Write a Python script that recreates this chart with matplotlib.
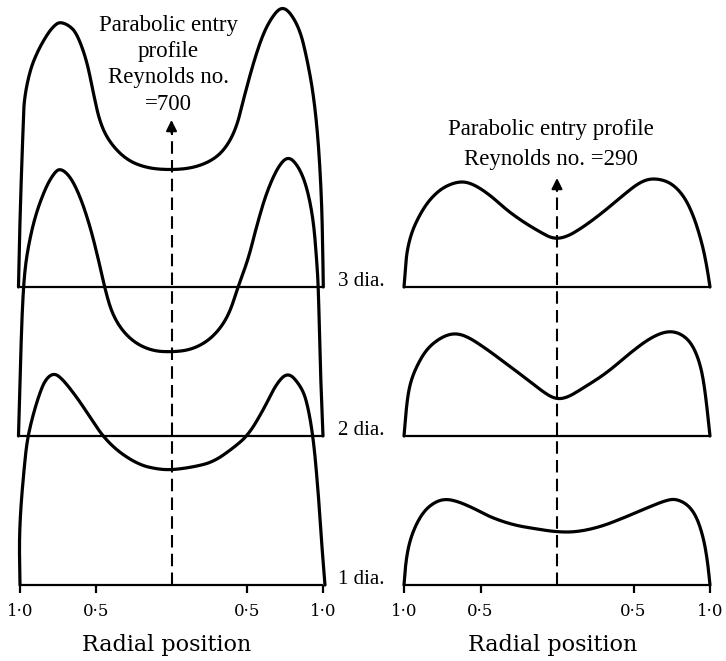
import numpy as np
import matplotlib.pyplot as plt

# radial position r (-1 .. 1) and velocity (chart units)
STATIONS = ["1 dia.", "2 dia.", "3 dia."]
STATION_GAP = 1.49

re700_r = [
    [-1.0, -1.005, -0.996, -0.978, -0.956, -0.923, -0.879, -0.835, -0.78,
     -0.725, -0.626, -0.538, -0.45, -0.34, -0.208, -0.098, 0.0, 0.144, 0.276,
     0.408, 0.507, 0.606, 0.694, 0.771, 0.848, 0.892, 0.936, 0.969, 0.991,
     1.013],
    [-1.01, -0.996, -0.985, -0.97, -0.945, -0.90, -0.835, -0.78, -0.736,
     -0.67, -0.604, -0.538, -0.483, -0.428, -0.384, -0.318, -0.23, -0.12, 0.0,
     0.122, 0.232, 0.32, 0.386, 0.441, 0.507, 0.562, 0.628, 0.705, 0.771,
     0.837, 0.892, 0.936, 0.958, 0.97, 0.98, 1.0],
    [-1.01, -1.003, -0.996, -0.989, -0.98, -0.974, -0.934, -0.88, -0.815,
     -0.77, -0.736, -0.68, -0.626, -0.56, -0.516, -0.472, -0.406, -0.296,
     -0.164, -0.01, 0.144, 0.276, 0.364, 0.43, 0.474, 0.54, 0.606, 0.672,
     0.727, 0.782, 0.848, 0.892, 0.936, 0.969, 0.991, 0.998, 1.002],
]
re700_u = [
    [0.0, 0.42, 0.75, 1.08, 1.42, 1.65, 1.88, 2.05, 2.12,
     2.07, 1.88, 1.68, 1.48, 1.32, 1.20, 1.16, 1.15, 1.18, 1.23,
     1.37, 1.50, 1.75, 2.02, 2.13, 2.00, 1.85, 1.48, 0.92, 0.42,
     0.0],
    [0.0, 0.77, 1.27, 1.64, 1.90, 2.20, 2.47, 2.62, 2.68,
     2.60, 2.40, 2.10, 1.77, 1.40, 1.20, 1.04, 0.92, 0.85, 0.84,
     0.86, 0.94, 1.07, 1.24, 1.50, 1.77, 2.10, 2.44, 2.70, 2.80,
     2.70, 2.50, 2.17, 1.77, 1.47, 0.77, 0.0],
    [0.0, 0.5, 0.87, 1.2, 1.57, 1.87, 2.17, 2.37, 2.54,
     2.62, 2.65, 2.62, 2.54, 2.27, 1.94, 1.64, 1.44, 1.27,
     1.19, 1.17, 1.19, 1.27, 1.40, 1.60, 1.87, 2.24, 2.54, 2.72,
     2.80, 2.75, 2.57, 2.30, 1.94, 1.47, 0.87, 0.40, 0.0],
]

re290_r = [
    [-1.0, -0.987, -0.961, -0.917, -0.863, -0.797, -0.732, -0.656, -0.547,
     -0.438, -0.286, -0.133, 0.0, 0.129, 0.281, 0.434, 0.586, 0.717, 0.782,
     0.858, 0.913, 0.956, 0.983, 1.0],
    [-1.0, -0.982, -0.96, -0.917, -0.852, -0.765, -0.678, -0.59, -0.46,
     -0.329, -0.198, -0.09, -0.013, 0.063, 0.172, 0.325, 0.477, 0.608, 0.717,
     0.804, 0.88, 0.935, 0.967, 1.0],
    [-1.0, -0.99, -0.982, -0.95, -0.895, -0.83, -0.743, -0.634, -0.547,
     -0.438, -0.329, -0.22, -0.111, -0.024, 0.063, 0.172, 0.303, 0.434, 0.542,
     0.63, 0.739, 0.826, 0.891, 0.946, 0.978, 1.0],
]
re290_u = [
    [0.0, 0.25, 0.45, 0.62, 0.75, 0.83, 0.86, 0.84, 0.77,
     0.68, 0.60, 0.56, 0.53, 0.53, 0.58, 0.67, 0.77, 0.85, 0.86,
     0.80, 0.68, 0.48, 0.25, 0.0],
    [0.0, 0.33, 0.53, 0.70, 0.87, 0.98, 1.03, 1.00, 0.87,
     0.72, 0.57, 0.44, 0.37, 0.38, 0.48, 0.63, 0.83, 0.98, 1.05,
     1.03, 0.93, 0.73, 0.47, 0.0],
    [0.0, 0.18, 0.35, 0.55, 0.73, 0.88, 1.00, 1.06, 1.03,
     0.92, 0.77, 0.65, 0.55, 0.48, 0.50, 0.60, 0.75, 0.92, 1.05,
     1.09, 1.05, 0.92, 0.72, 0.45, 0.22, 0.0],
]

TICKS = [-1.0, -0.5, 0.5, 1.0]
TICK_LABELS = ["1·0", "0·5", "0·5", "1·0"]

TIMES = ["Liberation Serif", "DejaVu Serif"]
WIDE = ["DejaVu Serif"]


def smooth(xs, ys, passes=4, sx=1.5):
    """Chaikin corner cutting: a smooth pen line through the read points."""
    P = np.column_stack([np.asarray(xs) * sx, ys])
    for _ in range(passes):
        q = 0.75 * P[:-1] + 0.25 * P[1:]
        r = 0.25 * P[:-1] + 0.75 * P[1:]
        mid = np.empty((2 * len(q), 2))
        mid[0::2] = q
        mid[1::2] = r
        P = np.vstack([P[:1], mid, P[-1:]])
    return P[:, 0] / sx, P[:, 1]


def draw_panel(ax, rs, us, arrow_top, title_lines, title_x, title_y, labels):
    offsets = [i * STATION_GAP for i in range(len(STATIONS))]
    ax.set_xlim(-1, 1)
    ax.set_ylim(0, 5.85)
    ax.axis("off")

    ax.hlines(offsets, -1, 1, color="black", lw=1.6, clip_on=False)
    ax.vlines(TICKS, -0.08, 0, color="black", lw=1.6, clip_on=False)
    for t, lab in zip(TICKS, TICK_LABELS):
        ax.text(t, -0.27, lab, ha="center", va="center", fontsize=12,
                family=WIDE)
    ax.text(-0.03, -0.60, "Radial position", ha="center", va="center",
            fontsize=16, family=WIDE)

    for off, r, u in zip(offsets, rs, us):
        x, y = smooth(r, u)
        ax.plot(x, y + off, color="black", lw=2.3, clip_on=False,
                solid_joinstyle="round", solid_capstyle="round")

    # dashed centre line with arrow head
    ax.plot([0, 0], [0, arrow_top - 0.12], color="black", lw=1.5,
            dashes=(6, 3), clip_on=False)
    ax.annotate("", xy=(0, arrow_top), xytext=(0, arrow_top - 0.13),
                arrowprops=dict(arrowstyle="-|>", color="black", lw=1.5,
                                mutation_scale=16, shrinkA=0, shrinkB=0))

    for line, y in zip(title_lines, title_y):
        ax.text(title_x, y, line, ha="center", va="center", fontsize=16.5,
                family=TIMES)

    if labels:
        for off, name in zip(offsets, STATIONS):
            ax.text(1.10, off + 0.01, name, ha="left", va="baseline",
                    fontsize=15, family=TIMES)


fig = plt.figure(figsize=(7.26, 6.61), dpi=100)
ax1 = fig.add_axes([20 / 726, 76 / 661, 303 / 726, 585 / 661])
ax2 = fig.add_axes([404 / 726, 76 / 661, 306 / 726, 585 / 661])

draw_panel(ax1, re700_r, re700_u, 4.65,
           ["Parabolic entry", "profile", "Reynolds no.", "=700"],
           -0.02, [5.60, 5.34, 5.07, 4.81], True)
draw_panel(ax2, re290_r, re290_u, 4.07,
           ["Parabolic entry profile", "Reynolds no. =290"],
           -0.04, [4.55, 4.26], False)

fig.savefig("out.png", dpi=100)
